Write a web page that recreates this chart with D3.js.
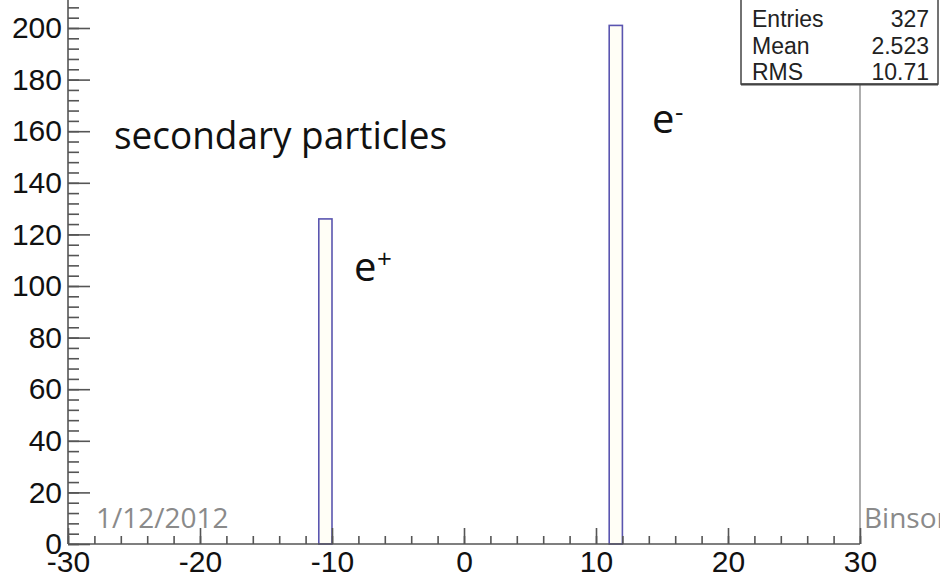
<!DOCTYPE html>
<html>
<head>
<meta charset="utf-8">
<script src="https://cdn.jsdelivr.net/npm/d3@7"></script>
<style>
  html, body { margin: 0; padding: 0; background: #fff; }
  svg { display: block; }
  .axis text { font-family: "Liberation Sans", Arial, sans-serif; font-size: 30px; fill: #111; }
  .axis line, .axis path { stroke: #555; stroke-width: 1.6; }
</style>
</head>
<body>
<svg id="chart" width="940" height="584"></svg>
<script>
// histogram bins (lower edge, width 1) and their counts
const binLow = [-11, 11];
const binCount = [126, 201];
const binWidth = 1;

const xTicks = [-30, -20, -10, 0, 10, 20, 30];
const yTicks = [0, 20, 40, 60, 80, 100, 120, 140, 160, 180, 200];

const statNames = ["Entries", "Mean", "RMS"];
const statValues = ["327", "2.523", "10.71"];

const svg = d3.select("#chart");

// plot frame in pixels
const left = 68, right = 860, bottom = 544;

const x = d3.scaleLinear().domain([-30, 30]).range([left, right]);
const y = d3.scaleLinear().domain([0, 200]).range([bottom, 28]);
const yTop = y.invert(0); // frame runs off the top of the picture

// plain hyphen for negatives, like the original
const fmt = d => String(d);

// bars
const bins = binLow.map((b, i) => ({ x0: b, x1: b + binWidth, n: binCount[i] }));
svg.append("g").selectAll("rect")
  .data(bins)
  .enter().append("rect")
  .attr("x", d => x(d.x0))
  .attr("y", d => y(d.n))
  .attr("width", d => x(d.x1) - x(d.x0))
  .attr("height", d => y(0) - y(d.n))
  .style("fill", "#fffef6")
  .style("stroke", "#5a55b0")
  .style("stroke-width", 1.6);

// right frame line
svg.append("line")
  .attr("x1", right).attr("x2", right)
  .attr("y1", 0).attr("y2", bottom)
  .style("stroke", "#777").style("stroke-width", 1.2);

// y axis: minor ticks every 4, major every 20, ticks pointing inward
const yMinor = d3.range(0, yTop, 4);
svg.append("g").attr("class", "axis")
  .attr("transform", `translate(${left},0)`)
  .call(d3.axisLeft(y).tickValues(yMinor).tickSize(-11).tickFormat(""))
  .call(g => g.select(".domain").remove());
svg.append("g").attr("class", "axis")
  .attr("transform", `translate(${left},0)`)
  .call(d3.axisLeft(y).tickValues(yTicks).tickSize(-22).tickPadding(6).tickFormat(fmt))
  .call(g => g.select(".domain").remove());
svg.append("line")
  .attr("x1", left).attr("x2", left).attr("y1", 0).attr("y2", bottom)
  .style("stroke", "#555").style("stroke-width", 1.6);

// x axis: minor every 2, major every 10
svg.append("g").attr("class", "axis")
  .attr("transform", `translate(0,${bottom})`)
  .call(d3.axisBottom(x).tickValues(d3.range(-30, 31, 2)).tickSize(-8).tickFormat(""))
  .call(g => g.select(".domain").remove());
svg.append("g").attr("class", "axis")
  .attr("transform", `translate(0,${bottom})`)
  .call(d3.axisBottom(x).tickValues(xTicks).tickSize(-16).tickPadding(7).tickFormat(fmt))
  .call(g => g.select(".domain").remove());
svg.append("line")
  .attr("x1", left).attr("x2", right).attr("y1", bottom).attr("y2", bottom)
  .style("stroke", "#555").style("stroke-width", 1.6);

// stats box
const box = svg.append("g");
box.append("rect")
  .attr("x", 741).attr("y", -4).attr("width", 197).attr("height", 88)
  .style("fill", "#fff").style("stroke", "#444").style("stroke-width", 1.5);
box.append("line")
  .attr("x1", 741).attr("x2", 938).attr("y1", 84.5).attr("y2", 84.5)
  .style("stroke", "#444").style("stroke-width", 2.2);
statNames.forEach((s, i) => {
  box.append("text")
    .attr("x", 752).attr("y", 27 + i * 26.5)
    .style("font-family", "'Liberation Sans', Arial, sans-serif")
    .style("font-size", "23px").style("fill", "#222")
    .text(s);
  box.append("text")
    .attr("x", 929).attr("y", 27 + i * 26.5)
    .attr("text-anchor", "end")
    .style("font-family", "'Liberation Sans', Arial, sans-serif")
    .style("font-size", "23px").style("fill", "#222")
    .text(statValues[i]);
});

// slide annotations
const slideFont = "'Open Sans', sans-serif";
svg.append("text")
  .attr("x", 114).attr("y", 149)
  .attr("textLength", 333).attr("lengthAdjust", "spacingAndGlyphs")
  .style("font-family", slideFont).style("font-size", "39px").style("fill", "#111")
  .text("secondary particles");

svg.append("text")
  .attr("x", 354).attr("y", 281)
  .style("font-family", slideFont).style("font-size", "40px").style("fill", "#111")
  .text("e");
svg.append("text")
  .attr("x", 377).attr("y", 268)
  .style("font-family", slideFont).style("font-size", "26px").style("fill", "#111")
  .text("+");

svg.append("text")
  .attr("x", 652).attr("y", 133)
  .style("font-family", slideFont).style("font-size", "40px").style("fill", "#111")
  .text("e");
svg.append("text")
  .attr("x", 675).attr("y", 121)
  .style("font-family", slideFont).style("font-size", "26px").style("fill", "#111")
  .text("-");

svg.append("text")
  .attr("x", 96).attr("y", 528)
  .style("font-family", slideFont).style("font-size", "28px").style("fill", "#8a8a8a")
  .text("1/12/2012");
svg.append("text")
  .attr("x", 864).attr("y", 528)
  .style("font-family", slideFont).style("font-size", "28px").style("fill", "#8a8a8a")
  .text("Binson");
</script>
</body>
</html>
